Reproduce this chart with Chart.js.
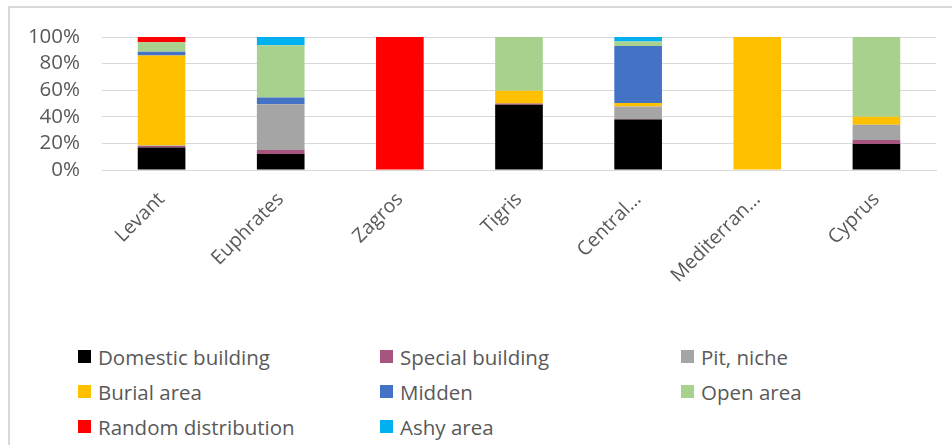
<!DOCTYPE html>
<html>
<head>
<meta charset="utf-8">
<script src="https://cdn.jsdelivr.net/npm/chart.js@4.4.1/dist/chart.umd.min.js"></script>
<style>
  html, body { margin: 0; padding: 0; background: #fff; }
  body { width: 952px; height: 445px; position: relative; overflow: hidden; font-family: "Open Sans", sans-serif; }
  /* chart area frame, only top and left edges are visible */
  #frame { position: absolute; left: 8px; top: 6px; width: 1000px; height: 500px;
           border-left: 2px solid #d9d9d9; border-top: 2px solid #d9d9d9; box-sizing: border-box; }
  #wrap { position: absolute; left: 0; top: 0; width: 952px; height: 300px; }
  #legend { position: absolute; left: 78px; top: 339px; display: grid;
            grid-template-columns: 302px 301px 260px; row-gap: 0; }
  .item { display: flex; align-items: center; height: 35px; color: #595959; font-size: 20.5px; }
  .box { width: 13px; height: 13px; margin-right: 7px; flex: none; }
</style>
</head>
<body>
<div id="frame"></div>
<div id="wrap"><canvas id="chart"></canvas></div>
<div id="legend"></div>
<script>
// regions on the x axis
const regions = ['Levant', 'Euphrates', 'Zagros', 'Tigris', 'Central\u2026', 'Mediterran\u2026', 'Cyprus'];

// share of finds per context type, percent of each region
const domestic = [17, 12, 0, 49, 38, 0, 19.5];
const special  = [1, 3, 0, 1, 0.3, 0, 3];
const pit      = [0.5, 34.5, 0, 0, 9.5, 0, 11.5];
const burial   = [67.5, 0, 0, 9.5, 2.5, 100, 6];
const midden   = [3, 5, 0, 0, 42.9, 0, 0];
const openArea = [7, 39.3, 0, 40.5, 3.5, 0, 60];
const random   = [4, 0, 100, 0, 0, 0, 0];
const ashy     = [0, 6.2, 0, 0, 3.3, 0, 0];

const yTicks = [0, 20, 40, 60, 80, 100];

const series = [
    { label: 'Domestic building', data: domestic, color: '#000000' },
    { label: 'Special building', data: special, color: '#A5557E' },
    { label: 'Pit, niche', data: pit, color: '#A5A5A5' },
    { label: 'Burial area', data: burial, color: '#FFC000' },
    { label: 'Midden', data: midden, color: '#4472C4' },
    { label: 'Open area', data: openArea, color: '#A9D18E' },
    { label: 'Random distribution', data: random, color: '#FF0000' },
    { label: 'Ashy area', data: ashy, color: '#00B0F0' },
];

Chart.defaults.font.family = '"Open Sans", sans-serif';
Chart.defaults.color = '#595959';

const ctx = document.getElementById('chart').getContext('2d');
const chart = new Chart(ctx, {
    type: 'bar',
    data: {
        labels: regions,
        datasets: series.map(s => ({
            label: s.label,
            data: s.data,
            backgroundColor: s.color,
            borderWidth: 0,
            categoryPercentage: 1,
            barPercentage: 0.4,
        })),
    },
    options: {
        responsive: true,
        maintainAspectRatio: false,
        animation: false,
        layout: { padding: { left: 0, right: 16, top: 37, bottom: 0 } },
        plugins: {
            legend: { display: false },
            tooltip: { enabled: false },
        },
        scales: {
            x: {
                stacked: true,
                grid: { display: false },
                border: { color: '#d9d9d9', width: 1 },
                ticks: {
                    font: { size: 19.5 },
                    minRotation: 45,
                    maxRotation: 45,
                    autoSkip: false,
                    padding: 10,
                },
                afterFit: s => { s.height = 130; },
            },
            y: {
                stacked: true,
                min: 0,
                max: 100,
                afterBuildTicks: s => { s.ticks = yTicks.map(v => ({ value: v })); },
                grid: { color: '#d9d9d9', lineWidth: 1, drawTicks: false },
                border: { display: false },
                ticks: {
                    font: { size: 20.5 },
                    padding: 22,
                    autoSkip: false,
                    callback: v => v + '%',
                },
                afterFit: s => { s.width = 102; },
            },
        },
    },
});

// legend in three columns, built from the datasets
const legend = document.getElementById('legend');
series.forEach(s => {
    const item = document.createElement('div');
    item.className = 'item';
    item.innerHTML = `<span class="box" style="background:${s.color}"></span><span>${s.label}</span>`;
    legend.appendChild(item);
});
</script>
</body>
</html>
